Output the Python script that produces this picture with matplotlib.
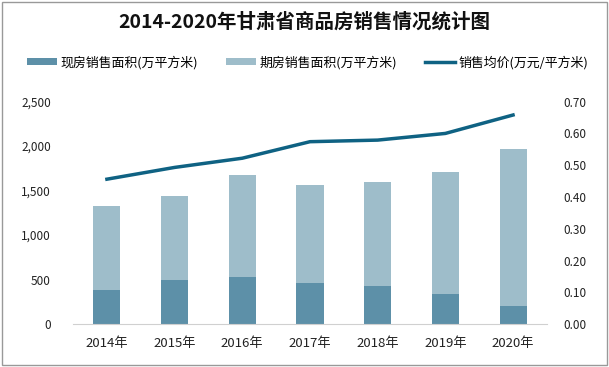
import matplotlib.pyplot as plt
import numpy as np

plt.rcParams['font.family'] = ['Noto Sans CJK SC', 'DejaVu Sans']

years = ['2014年', '2015年', '2016年', '2017年', '2018年', '2019年', '2020年']
spot_area = [382, 495, 529, 461, 427, 337, 202]
total_area = [1327, 1440, 1676, 1563, 1597, 1710, 1968]
futures_area = [t - s for t, s in zip(total_area, spot_area)]
avg_price = [0.456, 0.493, 0.522, 0.574, 0.579, 0.600, 0.658]

c_spot = '#5d90a8'
c_fut = '#9ebdca'
c_line = '#0f6283'

fig = plt.figure(figsize=(6.09, 3.67), dpi=100)
ax = fig.add_axes([0.12, 0.117, 0.778, 0.606])
x = np.arange(len(years))
ax.bar(x, spot_area, width=0.4, color=c_spot, label='现房销售面积(万平方米)')
ax.bar(x, futures_area, width=0.4, bottom=spot_area, color=c_fut,
       label='期房销售面积(万平方米)')
ax.set_ylim(0, 2500)
ax.set_xlim(-0.5, len(years) - 0.5)
ax.set_yticks(range(0, 2501, 500))
ax.set_yticklabels([f'{v:,}' for v in range(0, 2501, 500)])
ax.set_xticks(x)
ax.set_xticklabels(years)

ax2 = ax.twinx()
ax2.plot(x, avg_price, color=c_line, lw=2.5, label='销售均价(万元/平方米)')
ax2.set_ylim(0, 0.7)
ax2.set_yticks(np.arange(0, 0.71, 0.1))
ax2.set_yticklabels([f'{v:.2f}' for v in np.arange(0, 0.71, 0.1)])

for a in (ax, ax2):
    for s in a.spines.values():
        s.set_visible(False)
    a.tick_params(length=0, labelsize=8.5, colors='#222222')
ax.tick_params(axis='x', labelsize=9.5)
ax.spines['bottom'].set_visible(True)
ax.spines['bottom'].set_color('#d0d0d0')
ax.tick_params(axis='y', pad=16)
ax.tick_params(axis='x', pad=9)
ax2.tick_params(axis='y', pad=12)

h1, l1 = ax.get_legend_handles_labels()
h2, l2 = ax2.get_legend_handles_labels()
fig.legend(h1 + h2, l1 + l2, loc='center', bbox_to_anchor=(0.505, 0.83), ncol=3,
           frameon=False, fontsize=9.3, handlelength=2.3, handleheight=0.45,
           columnspacing=2.2, handletextpad=0.25)

fig.text(0.5, 0.94, '2014-2020年甘肃省商品房销售情况统计图', ha='center', va='center',
         fontsize=14, fontweight='bold', color='#111111')

fig.patches.append(plt.Rectangle((0.003, 0.005), 0.994, 0.99, transform=fig.transFigure,
                                 fill=False, edgecolor='#999999', lw=1))

fig.savefig('out.png', dpi=100)
